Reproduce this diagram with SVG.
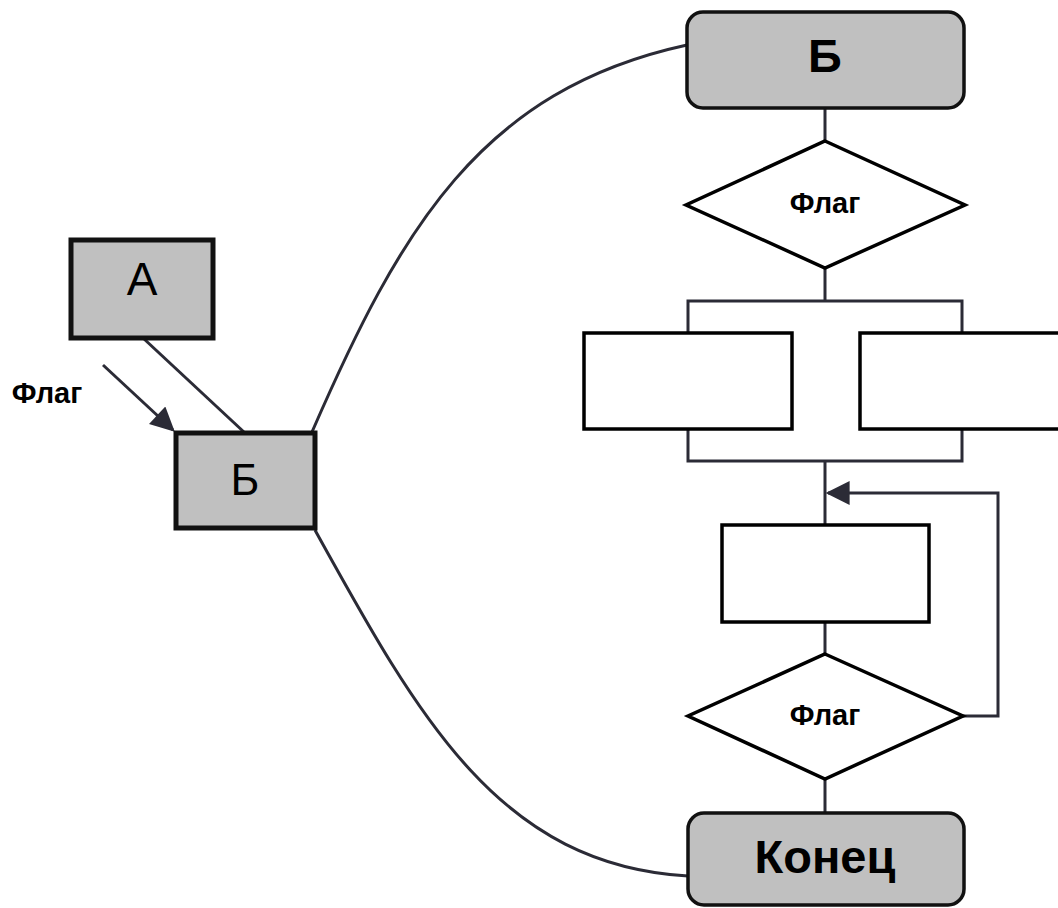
<svg xmlns="http://www.w3.org/2000/svg" width="1058" height="908" viewBox="0 0 1058 908">
  <defs>
    <style>
      .term { fill: #c0c0c0; stroke: #111; stroke-width: 3.5; }
      .box { fill: #c0c0c0; stroke: #111; stroke-width: 5; }
      .proc { fill: #fff; stroke: #000; stroke-width: 3.5; }
      .dec { fill: #fff; stroke: #000; stroke-width: 3.5; }
      .wire { fill: none; stroke: #2b2b36; stroke-width: 3; }
      .t { font-family: "Liberation Sans", Arial, sans-serif; text-anchor: middle; fill: #000; }
      .b { font-weight: bold; }
    </style>
    <marker id="ah" viewBox="0 0 10 10" refX="9" refY="5" markerWidth="10" markerHeight="8" orient="auto" markerUnits="strokeWidth">
      <path d="M0,0 L10,5 L0,10 z" fill="#2b2b36"/>
    </marker>
  </defs>

  <!-- connectors -->
  <g id="connectors">
    <path class="wire" d="M143,338 L245,433"/>
    <path class="wire" d="M103,365 L173,430" marker-end="url(#ah)"/>
    <path class="wire" d="M312,432 C400,230 480,90 687,45"/>
    <path class="wire" d="M315,530 C420,720 500,865 688,876"/>
    <path class="wire" d="M825,108 L825,141"/>
    <path class="wire" d="M825,268 L825,301"/>
    <path class="wire" d="M688,333 L688,301 L962,301 L962,333"/>
    <path class="wire" d="M688,429 L688,461 L962,461 L962,429"/>
    <path class="wire" d="M825,461 L825,525"/>
    <path class="wire" d="M825,622 L825,654"/>
    <path class="wire" d="M825,779 L825,813"/>
    <path class="wire" d="M963,716 L998,716 L998,493 L828,493" marker-end="url(#ah)"/>
  </g>

  <g id="node-a">
    <rect class="box" x="71" y="240" width="142" height="98"/>
    <text class="t" x="142" y="295" font-size="46">А</text>
  </g>

  <g id="node-b-left">
    <rect class="box" x="176" y="433" width="139" height="95"/>
    <text class="t" x="245" y="495" font-size="44">Б</text>
  </g>

  <g id="flag-label">
    <text class="t b" x="47" y="403" font-size="29" fill="#2b2b36">Флаг</text>
  </g>

  <g id="node-b-top">
    <rect class="term" x="687" y="12" width="277" height="96" rx="16"/>
    <text class="t b" x="825" y="72" font-size="47">Б</text>
  </g>

  <g id="decision-1">
    <polygon class="dec" points="825,141 965,205 825,268 686,205"/>
    <text class="t b" x="825" y="213" font-size="29">Флаг</text>
  </g>

  <g id="proc-left">
    <rect class="proc" x="584" y="333" width="208" height="96"/>
  </g>

  <g id="proc-right">
    <rect class="proc" x="860" y="333" width="210" height="96"/>
  </g>

  <g id="proc-loop">
    <rect class="proc" x="722" y="525" width="207" height="97"/>
  </g>

  <g id="decision-2">
    <polygon class="dec" points="825,654 963,716 825,779 688,716"/>
    <text class="t b" x="825" y="725" font-size="29">Флаг</text>
  </g>

  <g id="node-end">
    <rect class="term" x="688" y="813" width="276" height="92" rx="16"/>
    <text class="t b" x="825" y="873" font-size="47">Конец</text>
  </g>
</svg>
